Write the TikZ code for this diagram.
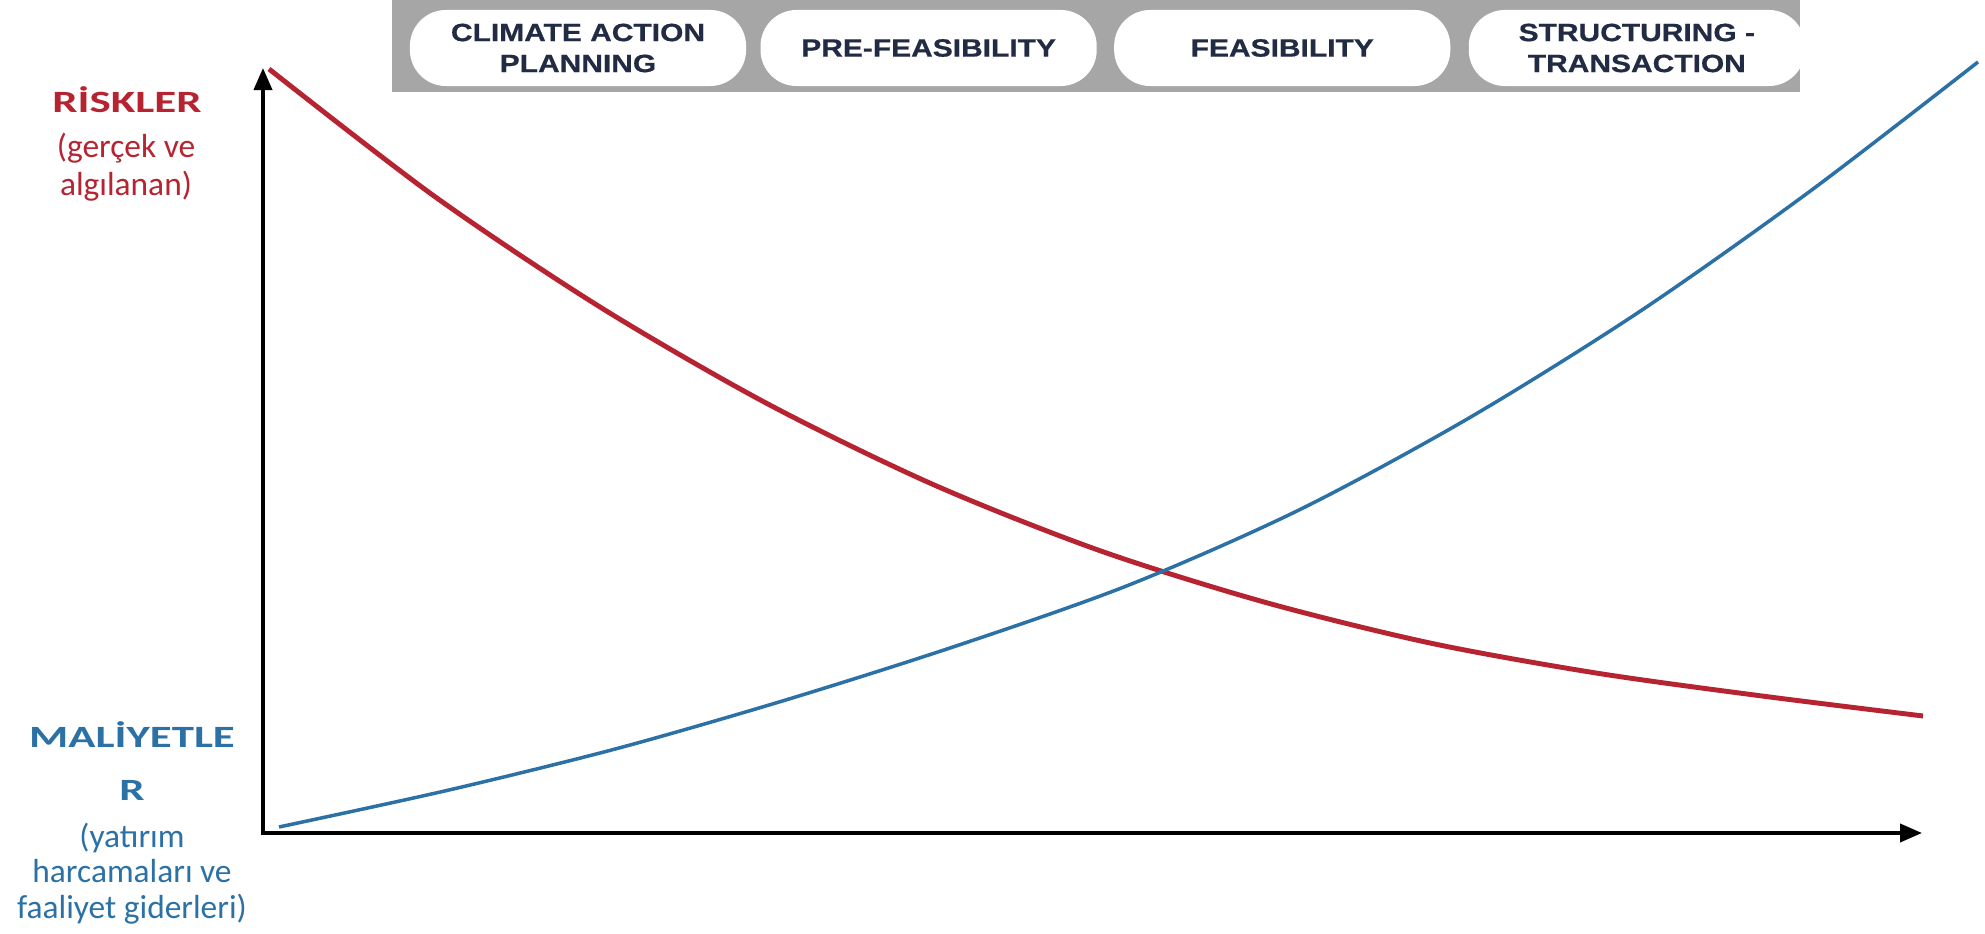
\documentclass[tikz,border=0pt]{standalone}
\usepackage{fontspec}
\setmainfont{Carlito}
\newfontfamily\widefont[FakeStretch=1.45]{Carlito}
\newfontfamily\pillfont[FakeStretch=1.2,FakeBold=0.6]{Liberation Sans}
\usetikzlibrary{positioning,arrows.meta}

\definecolor{riskred}{RGB}{182,36,50}
\definecolor{costblue}{RGB}{44,113,166}
\definecolor{bannergray}{RGB}{166,166,166}
\definecolor{pillnavy}{RGB}{34,43,68}

\tikzstyle{pill} = [rectangle, rounded corners=0.36cm, minimum width=3.36cm, minimum height=0.76cm, inner sep=0pt, align=center, fill=white, text=pillnavy, font=\pillfont\bfseries\fontsize{7.1}{8.8}\selectfont]
\tikzstyle{head} = [anchor=base, inner sep=0pt, font=\widefont\bfseries\fontsize{8.8}{10}\selectfont]
\tikzstyle{sub} = [anchor=base, inner sep=0pt, font=\fontsize{9.5}{10.5}\selectfont]
\tikzstyle{axis} = [line width=1.1pt, {Triangle[length=0.22cm,width=0.18cm]}-{Triangle[length=0.22cm,width=0.18cm]}]

\begin{document}
\begin{tikzpicture}[x=0.01cm,y=-0.01cm,node distance=0.15cm]
\useasboundingbox (0,0) rectangle (1985,934);

% stage banner
\fill[bannergray] (392,0) rectangle (1800,92);
\node[pill] (CAP) at (578,48) {CLIMATE ACTION\\PLANNING};
\node[pill] (PreFeas) [right=0.13cm of CAP] {PRE-FEASIBILITY};
\node[pill] (Feas) [right=0.16cm of PreFeas] {FEASIBILITY};
\node[pill] (Struct) [right=0.17cm of Feas] {STRUCTURING -\\TRANSACTION};

% axes
\coordinate (YTop) at (263,68);
\coordinate (XEnd) at (1922,833);
\draw[axis] (YTop) |- (XEnd);

% risk labels
\node[head, text=riskred] (Risk) at (127,113) {RİSKLER};
\node[sub, text=riskred] (RiskSubA) at (126,158) {(gerçek ve};
\node[sub, text=riskred] (RiskSubB) at (126,196) {algılanan)};

% cost labels
\node[head, text=costblue] (CostA) at (132,748) {MALİYETLE};
\node[head, text=costblue] (CostB) at (132,800) {R};
\node[sub, text=costblue] (CostSubA) at (132,847) {(yatırım};
\node[sub, text=costblue] (CostSubB) at (132,882) {harcamaları ve};
\node[sub, text=costblue] (CostSubC) at (132,918) {faaliyet giderleri)};

% curves
\draw[riskred, line width=1.4pt] plot[smooth] coordinates {(269,69) (434,196) (600,307) (766,403) (932,484) (1098,550) (1264,602) (1430,643) (1596,673) (1762,696) (1923,716)};
\draw[costblue, line width=1pt] plot[smooth] coordinates {(279,827) (449,790) (619,748) (789,699) (959,645) (1129,585) (1299,510) (1469,418) (1639,312) (1809,192) (1978,62)};

\end{tikzpicture}
\end{document}
